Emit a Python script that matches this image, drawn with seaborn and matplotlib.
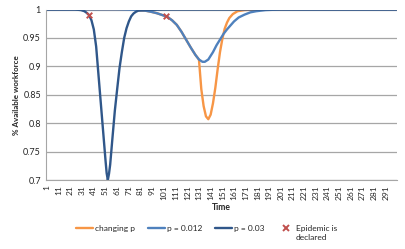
"""
Available workforce during an epidemic, for several infection probabilities.
"""

import numpy as np
import pandas as pd
import matplotlib
matplotlib.use('Agg')
import matplotlib.pyplot as plt
from matplotlib.lines import Line2D
import seaborn as sns

# Series values (day, share of workforce available)
p03_time = [1, 25, 30, 33, 35, 37, 39, 41, 43, 45, 47, 49, 51, 52, 53, 54, 55, 57, 59, 61,
            63, 65, 67, 69, 71, 73, 75, 77, 79, 85, 100, 300]
p03_value = [1.0, 1.0, 0.999, 0.997, 0.994, 0.990, 0.981, 0.965, 0.935, 0.885, 0.835, 0.785,
             0.735, 0.712, 0.700, 0.711, 0.727, 0.775, 0.822, 0.860, 0.897, 0.925, 0.950,
             0.967, 0.979, 0.988, 0.993, 0.996, 0.998, 0.999, 1.0, 1.0]

p012_time = [1, 60, 75, 80, 85, 90, 95, 100, 104, 108, 112, 116, 120, 124, 128, 131, 134,
             136, 139, 143, 146, 149, 152, 155, 158, 161, 165, 170, 175, 180, 188, 200, 300]
p012_value = [1.0, 1.0, 0.9995, 0.999, 0.998, 0.996, 0.9935, 0.990, 0.987, 0.981, 0.973,
              0.961, 0.947, 0.933, 0.920, 0.912, 0.908, 0.908, 0.912, 0.925, 0.937, 0.947,
              0.957, 0.965, 0.972, 0.979, 0.986, 0.991, 0.995, 0.997, 0.999, 1.0, 1.0]

changing_time = [1, 60, 75, 80, 85, 90, 95, 100, 104, 108, 112, 116, 120, 124, 128, 131, 133,
                 135, 137, 139, 141, 143, 145, 147, 149, 151, 153, 155, 157, 160, 164, 170,
                 180, 300]
changing_value = [1.0, 1.0, 0.9995, 0.999, 0.998, 0.996, 0.9935, 0.990, 0.987, 0.981, 0.973,
                  0.961, 0.947, 0.933, 0.920, 0.912, 0.860, 0.830, 0.812, 0.807, 0.815, 0.835,
                  0.862, 0.895, 0.925, 0.948, 0.966, 0.977, 0.985, 0.992, 0.997, 0.999, 1.0,
                  1.0]

declared_time = [37, 103]
declared_value = [0.990, 0.988]

series_names = ['changing p', 'p = 0.012', 'p = 0.03']
series_colors = ['#F79646', '#4F81BD', '#30578A']
marker_color = '#C0504D'

y_ticks = [0.7, 0.75, 0.8, 0.85, 0.9, 0.95, 1.0]
y_labels = ['0.7', '0.75', '0.8', '0.85', '0.9', '0.95', '1']
x_ticks = list(range(1, 300, 10))

sns.set_style('white')
plt.rcParams['font.family'] = ['Lato', 'DejaVu Sans']

df = pd.concat([
    pd.DataFrame({'Time': changing_time, 'value': changing_value, 'series': series_names[0]}),
    pd.DataFrame({'Time': p012_time, 'value': p012_value, 'series': series_names[1]}),
    pd.DataFrame({'Time': p03_time, 'value': p03_value, 'series': series_names[2]}),
])

fig = plt.figure(figsize=(4.05, 2.49), dpi=100)
ax = fig.add_axes([0.1148, 0.2771, 0.8654, 0.6847])

sns.lineplot(data=df, x='Time', y='value', hue='series', hue_order=series_names,
             palette=dict(zip(series_names, series_colors)), linewidth=1.7,
             estimator=None, legend=False, ax=ax)
sns.scatterplot(x=declared_time, y=declared_value, marker='x', s=16, linewidth=1.4,
                color=marker_color, zorder=5, ax=ax)

ax.set_xlim(0.5, 300.5)
ax.set_ylim(0.7, 1.0)
ax.set_yticks(y_ticks)
ax.set_yticklabels(y_labels, fontsize=6.5)
ax.set_xticks(x_ticks)
ax.set_xticklabels([str(t) for t in x_ticks], rotation=90, fontsize=6)
ax.set_xticks(np.arange(0.5, 301, 1), minor=True)
ax.tick_params(axis='x', which='both', length=2, width=0.5, color='#A6A6A6', pad=2)
ax.tick_params(axis='y', length=0, pad=4)
ax.yaxis.grid(True, color='#A6A6A6', linewidth=0.9)
ax.set_axisbelow(True)
for side in ['top', 'right']:
    ax.spines[side].set_visible(False)
for side in ['left', 'bottom']:
    ax.spines[side].set_color('#A6A6A6')
    ax.spines[side].set_linewidth(0.8)

ax.set_xlabel('Time', fontsize=6.2, fontweight='bold', labelpad=2)
ax.set_ylabel('% Available workforce', fontsize=5.8, fontweight='bold', labelpad=2)

handles = [Line2D([], [], color=c, linewidth=1.7) for c in series_colors]
handles.append(Line2D([], [], color=marker_color, marker='x', linestyle='none',
                      markersize=4, markeredgewidth=1.4))
leg = fig.legend(handles, series_names + ['Epidemic is\ndeclared'], loc='upper center',
                 bbox_to_anchor=(0.51, 0.125), ncol=4, frameon=False, fontsize=6,
                 handlelength=2.1, handletextpad=0.2, columnspacing=1.5)
# line the single-line entries up with the first line of the two-line one
leg._legend_handle_box.align = 'top'
for column in leg._legend_handle_box.get_children():
    for item in column.get_children():
        item.align = 'top'

fig.savefig('out.png', dpi=100)
